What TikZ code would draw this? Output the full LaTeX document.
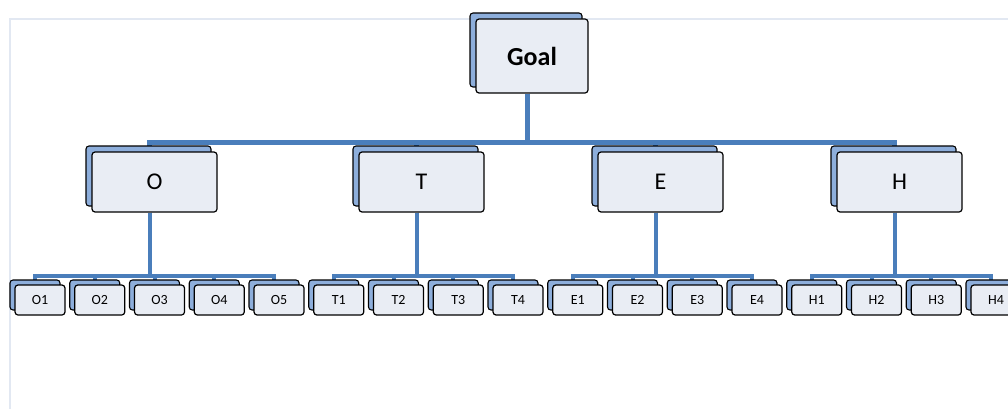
\documentclass[tikz,border=0pt]{standalone}
\usepackage{fontspec}
\setmainfont{Carlito}
\usetikzlibrary{shadows,backgrounds}
\definecolor{linkblue}{HTML}{4A7EBB}
\definecolor{backblue}{HTML}{8DAEDB}
\definecolor{facegray}{HTML}{E9EDF4}
\definecolor{framegray}{HTML}{E2E8F2}
\tikzset{
  box/.style={draw=black, line width=1.2pt, fill=facegray, rounded corners=3pt, inner sep=0pt,
    copy shadow={shadow xshift=-#1, shadow yshift=#1, fill=backblue, draw=black, line width=1.1pt}},
  box/.default=6pt,
  goalbox/.style={box, minimum width=112pt, minimum height=74pt, font=\fontsize{26}{30}\selectfont\bfseries},
  critbox/.style={box, minimum width=125pt, minimum height=60pt, font=\fontsize{24}{28}\selectfont},
  subbox/.style={box=5pt, minimum width=50pt, minimum height=30pt, font=\fontsize{14}{16}\selectfont},
  link/.style={draw=linkblue, line width=#1},
  link/.default=5pt
}
\begin{document}
\begin{tikzpicture}[x=1pt,y=-1pt]
  \useasboundingbox (0,0) rectangle (1008,409);
  \clip (0,0) rectangle (1008,409);
  \def\ytop{56} \def\ymid{182} \def\ysub{300}
  % top and criteria
  \node[goalbox] (goal) at (532,\ytop) {Goal};
  \foreach \c/\x in {O/154.5,T/421.5,E/660.5,H/899.5}
    \node[critbox] (\c) at (\x,\ymid) {\c};
  % sub-criteria
  \foreach \lab [count=\i from 0] in {O1,O2,O3,O4,O5,T1,T2,T3,T4,E1,E2,E3,E4,H1,H2,H3,H4}
    \node[subbox] (\lab) at ({40+59.75*\i},\ysub) {\lab};
  \begin{scope}[on background layer]
    \draw[framegray, line width=1.5pt] (1008,19) -- (10,19) -- (10,409);
    \foreach \c in {O,T,E,H}
      \draw[link] ([xshift=-5pt]goal.south) -- ++(0,49) -| ([xshift=-5pt]\c.north);
    \foreach \p/\kids in {O/{O1,O2,O3,O4,O5},T/{T1,T2,T3,T4},E/{E1,E2,E3,E4},H/{H1,H2,H3,H4}}
      \foreach \k in \kids
        \draw[link=4pt] ([xshift=-5pt]\p.south) -- ++(0,63) -| ([xshift=-5pt]\k.north);
  \end{scope}
\end{tikzpicture}
\end{document}
